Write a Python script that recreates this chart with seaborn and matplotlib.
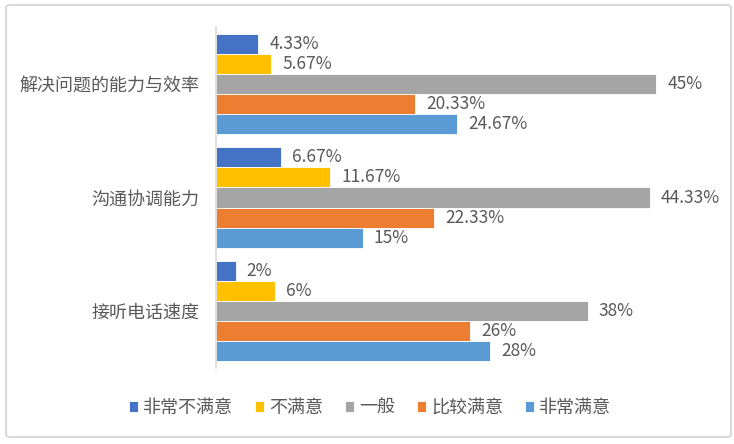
import seaborn as sns
import pandas as pd
import matplotlib.pyplot as plt
from matplotlib.patches import FancyBboxPatch

categories = ["解决问题的能力与效率", "沟通协调能力", "接听电话速度"]
levels = ["非常不满意", "不满意", "一般", "比较满意", "非常满意"]
very_unsatisfied = [4.33, 6.67, 2]
unsatisfied = [5.67, 11.67, 6]
neutral = [45, 44.33, 38]
fairly_satisfied = [20.33, 22.33, 26]
very_satisfied = [24.67, 15, 28]
colors = ["#4472C4", "#FFC000", "#A5A5A5", "#ED7D31", "#5B9BD5"]

series = [very_unsatisfied, unsatisfied, neutral, fairly_satisfied, very_satisfied]
rows = []
for lev, vals in zip(levels, series):
    for cat, v in zip(categories, vals):
        rows.append({"cat": cat, "level": lev, "value": v})
df = pd.DataFrame(rows)

sns.set_style("white")
plt.rcParams['font.family'] = ['Noto Sans CJK SC', 'DejaVu Sans']
txt = "#595959"

fig = plt.figure(figsize=(7.34, 4.44), dpi=100)
ax = fig.add_axes([216/734, 1-368/444, (705-216)/734, (368-27)/444])

sns.barplot(data=df, y="cat", x="value", hue="level", order=categories,
            hue_order=levels, palette=colors, orient="h", width=0.88,
            saturation=1, ax=ax, edgecolor="white", linewidth=0.6)

for cont in ax.containers:
    ax.bar_label(cont, labels=[f"{v:g}%" for v in cont.datavalues],
                 padding=8, fontsize=12.5, color=txt)

ax.set_xlim(0, 50)
ax.set_xlabel("")
ax.set_ylabel("")
ax.set_xticks([])
ax.tick_params(axis="y", length=0, labelsize=13, labelcolor=txt, pad=12)
for s in ["top", "right", "bottom"]:
    ax.spines[s].set_visible(False)
ax.spines["left"].set_color("#D9D9D9")
ax.spines["left"].set_linewidth(1.2)

ax.legend(loc="center", bbox_to_anchor=(370/734, 1-408/444),
          bbox_transform=fig.transFigure, ncol=5, frameon=False,
          fontsize=13, labelcolor=txt, handlelength=0.5, handleheight=0.5,
          handletextpad=0.3, columnspacing=1.2)

fig.patches.append(FancyBboxPatch((6/734, 1-437/444), 725/734, 432/444,
                                  boxstyle="round,pad=0,rounding_size=0.006",
                                  transform=fig.transFigure, fill=False,
                                  edgecolor="#D9D9D9", linewidth=1.5))

fig.savefig("out.png", dpi=100)
